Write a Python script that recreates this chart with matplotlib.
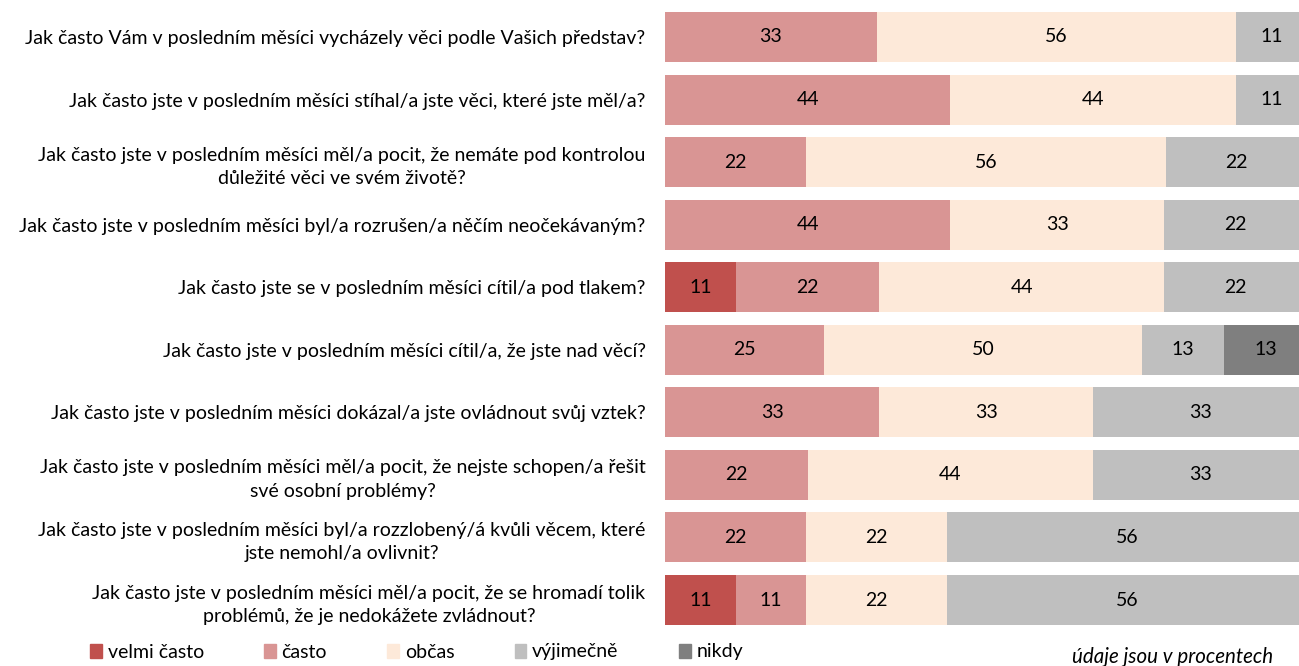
import numpy as np
import matplotlib
matplotlib.use("Agg")
import matplotlib.pyplot as plt
from matplotlib.patches import Patch

plt.rcParams["font.family"] = ["Lato", "DejaVu Sans"]

questions = [
    "Jak často Vám v posledním měsíci vycházely věci podle Vašich představ?",
    "Jak často jste v posledním měsíci stíhal/a jste věci, které jste měl/a?",
    "Jak často jste v posledním měsíci měl/a pocit, že nemáte pod kontrolou\ndůležité věci ve svém životě?",
    "Jak často jste v posledním měsíci byl/a rozrušen/a něčím neočekávaným?",
    "Jak často jste se v posledním měsíci cítil/a pod tlakem?",
    "Jak často jste v posledním měsíci cítil/a, že jste nad věcí?",
    "Jak často jste v posledním měsíci dokázal/a jste ovládnout svůj vztek?",
    "Jak často jste v posledním měsíci měl/a pocit, že nejste schopen/a řešit\nsvé osobní problémy?",
    "Jak často jste v posledním měsíci byl/a rozzlobený/á kvůli věcem, které\njste nemohl/a ovlivnit?",
    "Jak často jste v posledním měsíci měl/a pocit, že se hromadí tolik\nproblémů, že je nedokážete zvládnout?",
]

categories = ["velmi často", "často", "občas", "výjimečně", "nikdy"]
colors = ["#C0504D", "#D99594", "#FDE9D9", "#BFBFBF", "#7F7F7F"]

velmi_casto = [0, 0, 0, 0, 11, 0, 0, 0, 0, 11]
casto = [33, 44, 22, 44, 22, 25, 33, 22, 22, 11]
obcas = [56, 44, 56, 33, 44, 50, 33, 44, 22, 22]
vyjimecne = [11, 11, 22, 22, 22, 13, 33, 33, 56, 56]
nikdy = [0, 0, 0, 0, 0, 13, 0, 0, 0, 0]

data = np.array([velmi_casto, casto, obcas, vyjimecne, nikdy], dtype=float)
# 100% stacked: each row scaled to its own total
shares = data / data.sum(axis=0) * 100

FS = 14

fig = plt.figure(figsize=(12.99, 6.66), dpi=100)
ax = fig.add_axes([665 / 1299, 1 - 631.3 / 666, 642 / 1299, 625.6 / 666])

y = np.arange(len(questions))
left = np.zeros(len(questions))
for vals, shr, color, name in zip(data, shares, colors, categories):
    ax.barh(y, shr, left=left, height=0.8, color=color, label=name)
    for yi, v, s, l in zip(y, vals, shr, left):
        if v > 0:
            ax.text(l + s / 2, yi, f"{v:.0f}", ha="center", va="center",
                    fontsize=FS, color="black")
    left += shr

ax.set_xlim(0, 100)
ax.set_ylim(len(questions) - 0.5, -0.5)
ax.set_yticks(y)
ax.set_yticklabels(questions, fontsize=FS, multialignment="center",
                   linespacing=1.45)
ax.tick_params(axis="y", length=0, pad=14)
ax.set_xticks([])
for s in ax.spines.values():
    s.set_visible(False)

handles = [Patch(color=c) for c in colors]
fig.legend(handles, categories, loc="center left", ncol=5,
           bbox_to_anchor=(90 / 1299, 1 - 652 / 666), frameon=False,
           fontsize=FS, handlelength=0.6, handleheight=0.7,
           handletextpad=0.3, columnspacing=3.1, borderaxespad=0,
           borderpad=0)

fig.text(1072 / 1299, 1 - 657 / 666, "údaje jsou v procentech",
         fontsize=14.8, style="italic", ha="left", va="center")

fig.savefig("out.png", dpi=100)
